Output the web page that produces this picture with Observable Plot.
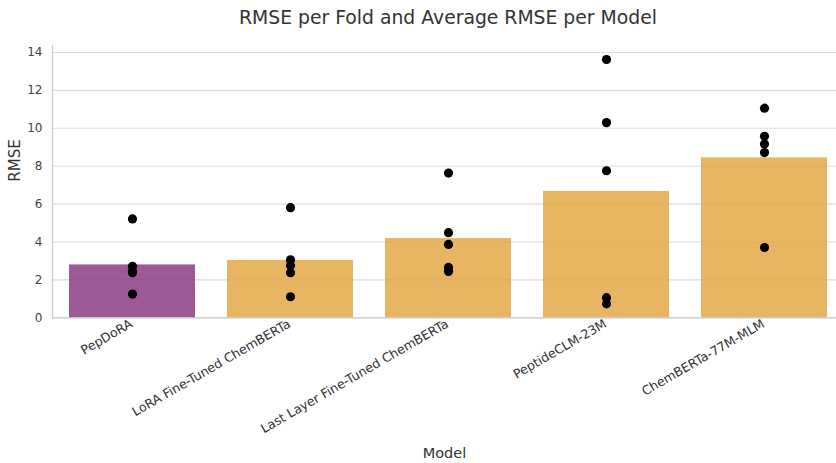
<!DOCTYPE html>
<html>
<head>
<meta charset="utf-8">
<script src="https://cdn.jsdelivr.net/npm/d3@7"></script>
<script src="https://cdn.jsdelivr.net/npm/@observablehq/plot@0.6"></script>
<style>
  html, body { margin: 0; padding: 0; background: #fff; overflow: hidden; }
  body { width: 836px; height: 463px; font-family: "DejaVu Sans", sans-serif; }
  #title { height: 36px; line-height: 36px; padding-left: 52px; width: 792px; text-align: center;
           font-size: 18.8px; color: #333; white-space: nowrap; }
  #chart { position: relative; }
  #chart svg { display: block; overflow: visible; }
</style>
</head>
<body>
<div id="title">RMSE per Fold and Average RMSE per Model</div>
<div id="chart"></div>
<script>
const models = ["PepDoRA", "LoRA Fine-Tuned ChemBERTa", "Last Layer Fine-Tuned ChemBERTa", "PeptideCLM-23M", "ChemBERTa-77M-MLM"];
const meanRMSE = [2.79, 3.03, 4.18, 6.67, 8.44];
const barColors = ["#82307c", "#e2a43b", "#e2a43b", "#e2a43b", "#e2a43b"];
const foldRMSE = [
  [5.22, 2.72, 2.45, 2.38, 1.25],
  [5.81, 3.06, 2.76, 2.38, 1.11],
  [7.64, 4.49, 3.87, 2.66, 2.45],
  [13.63, 10.30, 7.76, 1.06, 0.74],
  [11.06, 9.58, 9.17, 8.72, 3.71]
];
const yTicks = [0, 2, 4, 6, 8, 10, 12, 14];

const bars = models.map((m, i) => ({model: m, rmse: meanRMSE[i], color: barColors[i]}));
const points = models.flatMap((m, i) => foldRMSE[i].map(v => ({model: m, rmse: v})));

const chart = Plot.plot({
  width: 836,
  height: 427,
  marginTop: 9,
  marginBottom: 145.7,
  marginLeft: 52,
  marginRight: 0,
  style: {fontFamily: "DejaVu Sans, sans-serif", background: "#fff", overflow: "visible"},
  x: {domain: models, range: [52, 843.7], paddingInner: 0.2, paddingOuter: 0.1, label: null},
  y: {domain: [0, 14.37], label: null},
  marks: [
    Plot.gridY(yTicks, {stroke: "#dcdcdc", strokeOpacity: 1, strokeWidth: 1.1}),
    Plot.barY(bars, {x: "model", y: "rmse", fill: "color", fillOpacity: 0.8}),
    Plot.dot(points, {x: "model", y: "rmse", r: 4.6, fill: "#000", stroke: "none"}),
    Plot.ruleY([0], {stroke: "#cccccc", strokeWidth: 1.3}),
    Plot.frame({anchor: "left", stroke: "#cccccc", strokeWidth: 1.3}),
    Plot.axisY(yTicks, {tickSize: 0, tickPadding: 10, fontSize: 12, fill: "#444", label: null}),
    Plot.axisX({tickSize: 0, tickRotate: -30, tickPadding: 5, dx: -1, fontSize: 12.6, fill: "#333", label: null}),
    Plot.text(["RMSE"], {frameAnchor: "left", dx: -37, rotate: -90, fontSize: 15, fill: "#333"}),
    Plot.text(["Model"], {frameAnchor: "bottom", dy: 140, fontSize: 14.5, fill: "#333"})
  ]
});
document.getElementById("chart").appendChild(chart);
</script>
</body>
</html>
